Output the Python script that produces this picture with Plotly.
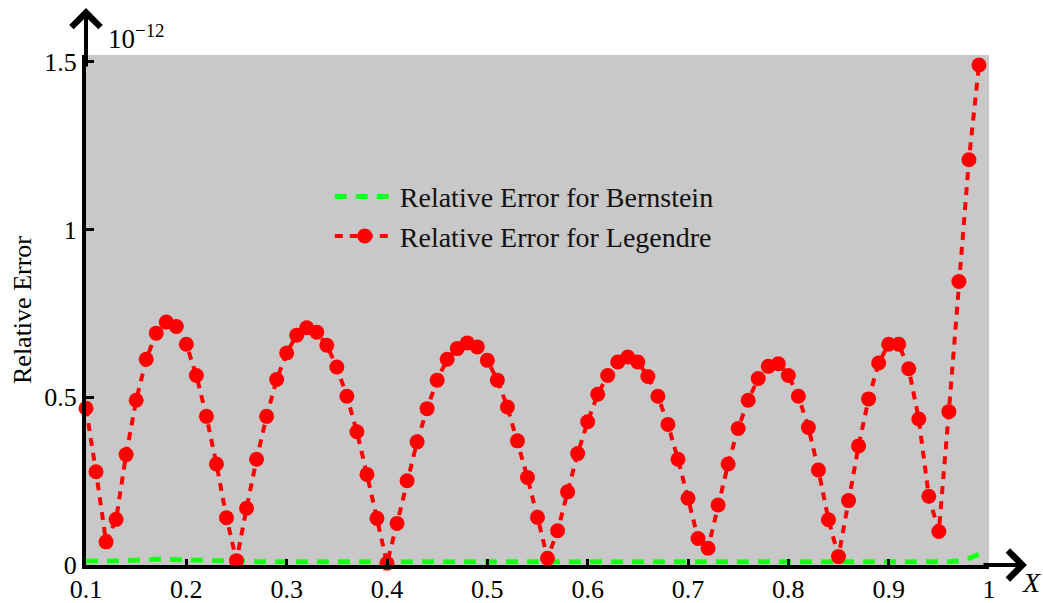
import plotly.graph_objects as go

# x positions (step 0.01 from 0.10 to 0.99)
x_vals = [round(0.10 + 0.01 * i, 2) for i in range(90)]

# Relative error for Legendre (units of 1e-12)
legendre_err = [
    0.467, 0.278, 0.069, 0.136, 0.329, 0.491, 0.613, 0.691, 0.724, 0.711,
    0.658, 0.565, 0.443, 0.301, 0.141, 0.013, 0.169, 0.315, 0.443, 0.553,
    0.632, 0.685, 0.707, 0.694, 0.655, 0.590, 0.503, 0.397, 0.270, 0.139,
    0.005, 0.124, 0.251, 0.367, 0.466, 0.551, 0.613, 0.645, 0.662, 0.650,
    0.610, 0.551, 0.471, 0.370, 0.261, 0.142, 0.020, 0.102, 0.218, 0.332,
    0.427, 0.509, 0.565, 0.605, 0.620, 0.605, 0.562, 0.503, 0.419, 0.315,
    0.199, 0.079, 0.050, 0.179, 0.301, 0.407, 0.491, 0.556, 0.592, 0.600,
    0.565, 0.503, 0.410, 0.283, 0.135, 0.025, 0.192, 0.355, 0.495, 0.602,
    0.658, 0.658, 0.585, 0.435, 0.205, 0.100, 0.457, 0.845, 1.208, 1.490,
]

# Relative error for Bernstein (units of 1e-12)
bernstein_err = [
    0.012, 0.011, 0.011, 0.012, 0.013, 0.015, 0.016, 0.017, 0.017, 0.016,
    0.015, 0.013, 0.012, 0.011, 0.010, 0.010, 0.010, 0.010, 0.010, 0.010,
    0.010, 0.009, 0.009, 0.009, 0.008, 0.008, 0.008, 0.008, 0.008, 0.008,
    0.008, 0.008, 0.008, 0.008, 0.008, 0.008, 0.008, 0.008, 0.008, 0.008,
    0.008, 0.008, 0.008, 0.008, 0.008, 0.008, 0.008, 0.008, 0.008, 0.008,
    0.008, 0.008, 0.008, 0.008, 0.008, 0.008, 0.008, 0.008, 0.008, 0.008,
    0.008, 0.008, 0.008, 0.008, 0.008, 0.008, 0.008, 0.008, 0.008, 0.008,
    0.008, 0.008, 0.008, 0.008, 0.008, 0.008, 0.008, 0.008, 0.008, 0.008,
    0.008, 0.008, 0.008, 0.008, 0.008, 0.009, 0.010, 0.013, 0.020, 0.032,
]

x_tickvals = [0.1, 0.2, 0.3, 0.4, 0.5, 0.6, 0.7, 0.8, 0.9, 1.0]
x_ticktext = ["0.1", "0.2", "0.3", "0.4", "0.5", "0.6", "0.7", "0.8", "0.9", "1"]
y_tickvals = [0, 0.5, 1, 1.5]
y_ticktext = ["0", "0.5", "1", "1.5"]

FONT = "Liberation Serif, Times New Roman, serif"

fig = go.Figure()
fig.add_trace(go.Scatter(
    x=x_vals, y=bernstein_err, mode="lines",
    name="Relative Error for Bernstein",
    line=dict(color="#1aff1a", width=5, dash="12px,9px"),
    cliponaxis=False,
))
fig.add_trace(go.Scatter(
    x=x_vals, y=legendre_err, mode="lines+markers",
    name="Relative Error for Legendre",
    line=dict(color="#ff0000", width=4, dash="8px,7px"),
    marker=dict(color="#ff0000", size=15, line=dict(width=0)),
    cliponaxis=False,
))

fig.update_layout(
    width=1043, height=603,
    margin=dict(l=86, r=54, t=55, b=38),
    paper_bgcolor="white",
    plot_bgcolor="#c8c8c8",
    font=dict(family=FONT, size=26, color="black"),
    showlegend=True,
    legend=dict(
        x=0.270, y=0.771, xanchor="left", yanchor="top",
        bgcolor="rgba(0,0,0,0)", borderwidth=0,
        font=dict(family=FONT, size=28, color="#111111"),
        itemwidth=60,
    ),
    xaxis=dict(
        range=[0.1, 1.0], showgrid=False, zeroline=False, automargin=False,
        showline=True, linecolor="black", linewidth=4,
        ticks="inside", ticklen=6, tickwidth=3, tickcolor="black",
        tickvals=x_tickvals, ticktext=x_ticktext,
        tickfont=dict(family=FONT, size=26),
        ticklabelstandoff=-2,
    ),
    yaxis=dict(
        range=[0, 1.52], showgrid=False, zeroline=False, automargin=False,
        showline=True, linecolor="black", linewidth=4,
        ticks="inside", ticklen=8, tickwidth=3, tickcolor="black",
        tickvals=y_tickvals, ticktext=y_ticktext,
        tickfont=dict(family=FONT, size=26),
        title=dict(text="Relative Error", font=dict(family=FONT, size=26), standoff=6),
    ),
)

# axis arrows
fig.add_annotation(x=1.042, y=0, xref="paper", yref="paper", ax=-45, ay=0,
                   showarrow=True, arrowhead=4, arrowsize=1.4, arrowwidth=4,
                   arrowcolor="black", text="")
fig.add_annotation(x=0, y=1.092, xref="paper", yref="paper", ax=0, ay=60,
                   showarrow=True, arrowhead=4, arrowsize=1.4, arrowwidth=4,
                   arrowcolor="black", text="")
# exponent label and X label
fig.add_annotation(x=0.022, y=1.035, xref="paper", yref="paper",
                   text="10<sup>\u221212</sup>", showarrow=False,
                   xanchor="left", yanchor="middle",
                   font=dict(family=FONT, size=27))
fig.add_annotation(x=1.047, y=-0.035, xref="paper", yref="paper",
                   text="<i>X</i>", showarrow=False,
                   xanchor="center", yanchor="middle",
                   font=dict(family=FONT, size=28))

fig.write_html("out.html")
